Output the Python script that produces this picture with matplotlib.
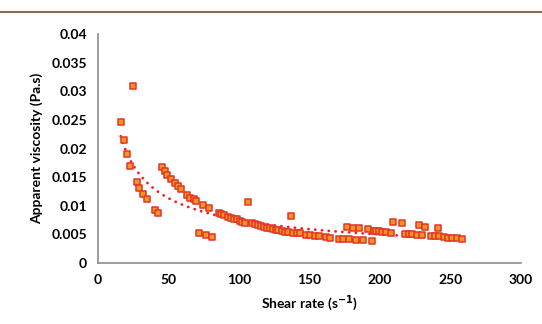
import numpy as np
import matplotlib
matplotlib.use("Agg")
import matplotlib.pyplot as plt
from matplotlib.lines import Line2D

# shear rate (1/s) and apparent viscosity (Pa.s)
shear_rate = [
    16.1, 18.7, 20.4, 22.6, 25.1, 27.7, 29.3, 31.7, 34.6, 40.7, 42.9,
    45.4, 47.4, 49.0, 51.9, 54.5, 56.4, 58.8, 62.8, 65.4, 67.8, 69.7,
    71.8, 74.4, 76.3, 78.7, 80.5, 85.5, 87.4, 89.6, 91.9, 94.0, 96.2,
    98.3, 100.4, 102.3, 104.2, 106.4, 109.0, 111.1, 113.5, 115.8, 118.0,
    120.1, 122.2, 124.2, 126.1, 128.0, 130.5, 132.7, 135.0, 136.7, 138.4,
    141.2, 143.6, 147.8, 150.7, 153.7, 156.9, 161.6, 164.4, 171.1, 173.9,
    176.7, 177.9, 181.0, 182.9, 185.0, 188.1, 191.4, 194.3, 195.7, 197.1,
    199.2, 201.6, 204.2, 208.0, 209.4, 215.4, 218.0, 220.3, 222.7, 226.0,
    227.9, 229.8, 231.9, 236.4, 239.0, 241.4, 242.1, 245.4, 248.3, 251.4,
    254.4, 258.5,
]
viscosity = [
    0.0246, 0.0214, 0.0190, 0.0170, 0.0310, 0.0141, 0.0131, 0.0121, 0.0112,
    0.0093, 0.0087, 0.0168, 0.0161, 0.0154, 0.0146, 0.0139, 0.0134, 0.0129,
    0.0119, 0.0114, 0.0111, 0.0108, 0.0053, 0.0101, 0.0049, 0.0096, 0.0046,
    0.0087, 0.0085, 0.0083, 0.0081, 0.0079, 0.0077, 0.0076, 0.0074, 0.0072,
    0.0070, 0.0106, 0.0069, 0.0068, 0.0066, 0.0065, 0.0063, 0.0062, 0.0061,
    0.0059, 0.0058, 0.0058, 0.0056, 0.0055, 0.0054, 0.0082, 0.0052, 0.0052,
    0.0052, 0.0049, 0.0049, 0.0048, 0.0047, 0.0045, 0.0044, 0.0042, 0.0042,
    0.0063, 0.0042, 0.0061, 0.0041, 0.0061, 0.0040, 0.0059, 0.0038, 0.0056,
    0.0056, 0.0056, 0.0054, 0.0054, 0.0052, 0.0071, 0.0069, 0.0050, 0.0051,
    0.0051, 0.0049, 0.0066, 0.0049, 0.0063, 0.0047, 0.0047, 0.0061, 0.0047,
    0.0045, 0.0044, 0.0044, 0.0043, 0.0042,
]
x_ticks = [0, 50, 100, 150, 200, 250, 300]
y_ticks = [0, 0.005, 0.01, 0.015, 0.02, 0.025, 0.03, 0.035, 0.04]
y_tick_labels = ["0", "0.005", "0.01", "0.015", "0.02", "0.025", "0.03", "0.035", "0.04"]

plt.rcParams["font.family"] = ["Lato", "DejaVu Sans"]
plt.rcParams["font.weight"] = "bold"
plt.rcParams["mathtext.default"] = "bf"

fig = plt.figure(figsize=(5.42, 3.24), dpi=100)
ax = fig.add_axes([98 / 542, 1 - 263 / 324, (521 - 98) / 542, (263 - 34) / 324])

# power-law trendline (log-log least squares, like Excel's power fit)
xs = np.array(shear_rate)
ys = np.array(viscosity)
b, log_a = np.polyfit(np.log(xs), np.log(ys), 1)
xfit = np.linspace(xs.min(), xs.max(), 300)
yfit = np.exp(log_a) * xfit ** b
ax.plot(xfit, yfit, color="#ff1a1a", lw=2.0, linestyle=(0, (0.05, 2.4)),
        dash_capstyle="round", zorder=2)

ax.scatter(shear_rate, viscosity, marker="s", s=22, facecolor="#f7941d",
           edgecolor="#e0352b", linewidths=1.1, zorder=3)

ax.set_xlim(0, 300)
ax.set_ylim(0, 0.04)
ax.set_xticks(x_ticks)
ax.set_yticks(y_ticks)
ax.set_yticklabels(y_tick_labels)
ax.tick_params(length=0, labelsize=10, pad=8)
for lab in ax.get_xticklabels() + ax.get_yticklabels():
    lab.set_fontweight("bold")

for side in ["top", "right"]:
    ax.spines[side].set_visible(False)
for side in ["left", "bottom"]:
    ax.spines[side].set_color("#8c8c8c")
    ax.spines[side].set_linewidth(1.2)

ax.set_xlabel("Shear rate (s$^{-1}$)", fontsize=10, fontweight="bold", labelpad=5)
ax.set_ylabel("Apparent viscosity (Pa.s)", fontsize=10, fontweight="bold", labelpad=6)

# brown rule across the top of the figure
fig.add_artist(Line2D([0, 1], [1 - 12 / 324, 1 - 12 / 324], color="#8a6a52", lw=1.5))

fig.savefig("out.png", dpi=100)
